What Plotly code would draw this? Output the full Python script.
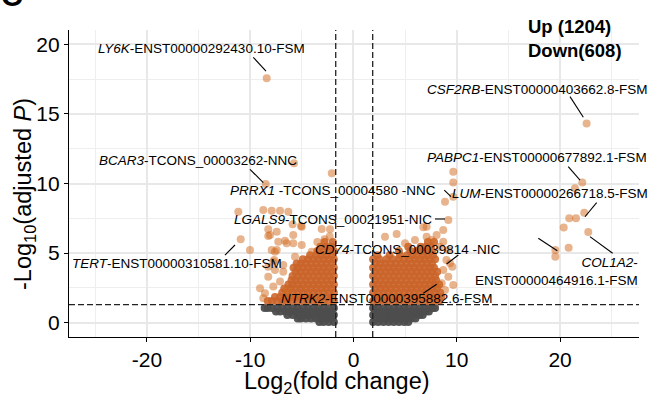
import plotly.graph_objects as go

# ---------------- data ----------------
fc_cut_left = -1.72
fc_cut_right = 1.86
p_cut = 1.301

# not significant (grey) cloud, stored row by row (y level, x values)
ns_row_y = [0.05, 0.3, 0.55, 0.8, 1.05]
ns_left_x_rows = [
    [-1.9, -2.4, -2.9, -3.3],
    [-2.1, -2.6, -3.1, -3.6, -4.1, -4.6, -5.1, -5.4],
    [-1.9, -2.4, -2.9, -3.4, -3.9, -4.4, -4.9, -5.4, -5.9, -6.4],
    [-2.1, -2.6, -3.1, -3.6, -4.1, -4.6, -5.1, -5.6, -6.1, -6.6, -7.1, -7.5],
    [-1.9, -2.4, -2.9, -3.4, -3.9, -4.4, -4.9, -5.4, -5.9, -6.4, -6.9, -7.4, -7.9, -8.3, -8.6],
]
ns_right_x_rows = [
    [1.9, 2.4, 2.9, 3.4, 3.9, 4.4, 4.9, 5.3],
    [2.1, 2.6, 3.1, 3.6, 4.1, 4.6, 5.1, 5.6, 6.0],
    [1.9, 2.4, 2.9, 3.4, 3.9, 4.4, 4.9, 5.4, 5.9, 6.4, 6.7],
    [2.1, 2.6, 3.1, 3.6, 4.1, 4.6, 5.1, 5.6, 6.1, 6.6, 7.0, 7.3],
    [1.9, 2.4, 2.9, 3.4, 3.9, 4.4, 4.9, 5.4, 5.9, 6.4, 6.9, 7.3, 7.7, 7.9],
]

# significant (orange) dense clouds, row by row
sig_left_row_y = [1.55, 1.85, 2.15, 2.45, 2.75, 3.05, 3.35, 3.65, 3.95, 4.25, 4.55, 4.85, 5.15, 5.45, 5.8]
sig_left_x_rows = [
    [-1.9, -2.4, -2.9, -3.4, -3.9, -4.4, -4.9, -5.4, -5.9, -6.4, -6.9, -7.4, -7.9, -8.3],
    [-2.1, -2.6, -3.1, -3.6, -4.1, -4.6, -5.1, -5.6, -6.1, -6.6, -7.1, -7.6],
    [-1.9, -2.4, -2.9, -3.4, -3.9, -4.4, -4.9, -5.4, -5.9, -6.4, -6.9],
    [-2.1, -2.6, -3.1, -3.6, -4.1, -4.6, -5.1, -5.6, -6.1, -6.7],
    [-1.9, -2.4, -2.9, -3.4, -3.9, -4.4, -4.9, -5.4, -5.9, -6.3],
    [-2.1, -2.6, -3.1, -3.6, -4.1, -4.6, -5.1, -5.6, -6.0],
    [-1.9, -2.4, -2.9, -3.4, -3.9, -4.4, -4.9, -5.4, -5.9],
    [-2.1, -2.6, -3.1, -3.6, -4.1, -4.6, -5.1, -5.6],
    [-1.9, -2.4, -2.9, -3.4, -3.9, -4.4, -4.9, -5.4, -5.8],
    [-2.1, -2.6, -3.1, -3.6, -4.1, -4.6, -5.1, -5.5],
    [-1.9, -2.4, -2.9, -3.4, -3.9, -4.4, -4.9],
    [-2.1, -2.6, -3.1, -3.6, -4.2],
    [-1.9, -2.4, -2.9, -3.5],
    [-2.1, -2.6, -3.2],
    [-2.0, -2.8],
]
sig_right_row_y = [1.55, 1.85, 2.15, 2.45, 2.75, 3.05, 3.35, 3.65, 3.95, 4.25, 4.55, 4.85, 5.15, 5.45, 5.8]
sig_right_x_rows = [
    [1.9, 2.4, 2.9, 3.4, 3.9, 4.4, 4.9, 5.4, 5.9, 6.4, 6.9, 7.4, 7.9, 8.3],
    [2.1, 2.6, 3.1, 3.6, 4.1, 4.6, 5.1, 5.6, 6.1, 6.6, 7.1, 7.6, 8.1, 8.5],
    [1.9, 2.4, 2.9, 3.4, 3.9, 4.4, 4.9, 5.4, 5.9, 6.4, 6.9, 7.4, 7.9, 8.4],
    [2.1, 2.6, 3.1, 3.6, 4.1, 4.6, 5.1, 5.6, 6.1, 6.6, 7.1, 7.6, 8.1],
    [1.9, 2.4, 2.9, 3.4, 3.9, 4.4, 4.9, 5.4, 5.9, 6.4, 6.9, 7.4, 7.9, 8.3],
    [2.1, 2.6, 3.1, 3.6, 4.1, 4.6, 5.1, 5.6, 6.1, 6.6, 7.1, 7.6, 8.0],
    [1.9, 2.4, 2.9, 3.4, 3.9, 4.4, 4.9, 5.4, 5.9, 6.4, 6.9, 7.4, 7.9],
    [2.1, 2.6, 3.1, 3.6, 4.1, 4.6, 5.1, 5.6, 6.1, 6.6, 7.1, 7.6, 8.1],
    [1.9, 2.4, 2.9, 3.4, 3.9, 4.4, 4.9, 5.4, 5.9, 6.4, 6.9, 7.4, 7.8],
    [2.1, 2.6, 3.1, 3.6, 4.1, 4.6, 5.1, 5.6, 6.1, 6.6, 7.1, 7.6],
    [1.9, 2.5, 3.2, 3.8, 4.4, 4.9, 5.4, 5.9, 6.4, 6.9, 7.4, 7.9],
    [2.3, 3.5, 4.5, 5.2, 5.7, 6.2, 6.7, 7.2, 7.7],
    [4.4, 5.5, 6.1, 6.6, 7.1, 7.6],
    [5.3, 6.5, 7.0, 7.5],
    [7.2, 7.8],
]

# significant scattered points (read individually)
sig_extra_x = [-8.40, -8.50, -5.76, -2.10, -11.15, -8.73, -7.92, -7.11, -6.31, -5.89,
               -5.08, -3.08, -2.27, -8.25, -8.25, -6.63, -5.83, -10.92, -10.02, -7.43,
               -7.67, -5.66, -5.01, -4.05, -7.92, -7.28, -8.25, -7.60, -6.80, -8.25,
               -7.11, -7.76, -8.57, -6.47, -8.08, -7.43, -5.83, -5.01, -6.47, -7.60,
               -7.76, -6.80, -9.05, -8.73, -2.3, -2.8, -3.5,
               9.66, 9.66, 8.86, 9.66, 9.18, 4.18, 6.76, 8.69, 7.08, 9.57,
               9.66, 9.00, 7.08, 8.69, 8.37, 9.18, 8.05, 7.57, 5.95, 4.99,
               3.05, 9.18, 8.69, 9.34, 8.54, 8.86,
               22.57, 22.15, 21.44, 22.34, 20.89, 21.54, 20.35, 22.73, 20.83, 19.54, 19.54]
sig_extra_y = [17.56, 9.96, 11.45, 10.73, 7.97, 8.10, 8.05, 8.05, 7.97, 7.07,
               6.95, 6.73, 6.71, 6.71, 6.23, 5.89, 5.70, 5.99, 5.22, 5.22,
               4.50, 4.74, 5.58, 5.10, 5.22, 5.82, 4.02, 3.79, 4.15, 3.30,
               2.95, 2.59, 2.11, 2.35, 6.30, 6.54, 6.30, 6.90, 5.70, 5.10,
               4.38, 3.66, 2.47, 1.75, 6.2, 6.0, 5.8,
               10.85, 10.08, 8.69, 9.05, 7.38, 6.37, 6.85, 6.66, 6.18, 4.02,
               2.71, 4.50, 6.90, 5.82, 5.46, 5.22, 6.30, 5.94, 5.94, 5.70,
               6.18, 3.30, 3.79, 4.27, 2.83, 2.35,
               14.32, 10.08, 9.65, 7.90, 7.50, 7.50, 6.83, 6.52, 5.39, 5.22, 4.74]

# gene labels
label_texts = [
    "<i>LY6K</i>-ENST00000292430.10-FSM",
    "<i>BCAR3</i>-TCONS_00003262-NNC",
    "<i>PRRX1</i> -TCONS_00004580 -NNC",
    "<i>LGALS9</i>-TCONS_00021951-NIC",
    "<i>CD74</i>-TCONS_00039814 -NIC",
    "<i>NTRK2</i>-ENST00000395882.6-FSM",
    "<i>TERT</i>-ENST00000310581.10-FSM",
    "<i>CSF2RB</i>-ENST00000403662.8-FSM",
    "<i>PABPC1</i>-ENST00000677892.1-FSM",
    "<i>LUM</i>-ENST00000266718.5-FSM",
]
label_x = [-14.67, -15.06, -2.03, -2.03, 5.23, 3.29, -17.09, 17.81, 17.73, 19.02]
label_y = [19.71, 11.64, 9.53, 7.43, 5.27, 1.75, 4.22, 16.77, 11.85, 9.25]
col1a2_text = "<i>COL1A2</i>-<br>ENST00000464916.1-FSM"
count_text = "<b>Up (1204)<br>Down(608)</b>"

seg_x0 = [-9.70, -10.02, 8.79, 7.89, 10.15, 6.76, -12.44, 20.96, 20.79, 22.41, 22.89, 17.89]
seg_y0 = [19.07, 11.02, 9.53, 7.45, 4.86, 2.11, 4.86, 16.24, 11.21, 7.61, 6.18, 6.06]
seg_x1 = [-8.47, -8.73, 9.44, 8.86, 9.02, 8.05, -11.47, 22.25, 21.93, 23.54, 25.09, 19.73]
seg_y1 = [18.07, 10.06, 9.05, 7.45, 4.22, 2.76, 5.58, 14.76, 10.25, 8.62, 4.99, 5.17]

x_ticks = [-20, -10, 0, 10, 20]
x_tick_text = ["-20", "-10", "0", "10", "20"]
y_ticks = [0, 5, 10, 15, 20]
y_tick_text = ["0", "5", "10", "15", "20"]

# ---------------- build ----------------
def flatten(rows_y, rows_x):
    xs, ys = [], []
    for yv, row in zip(rows_y, rows_x):
        for xv in row:
            xs.append(xv)
            ys.append(yv)
    return xs, ys

nlx, nly = flatten(ns_row_y, ns_left_x_rows)
nrx, nry = flatten(ns_row_y, ns_right_x_rows)
slx, sly = flatten(sig_left_row_y, sig_left_x_rows)
srx, sry = flatten(sig_right_row_y, sig_right_x_rows)

ns_x = nlx + nrx
ns_y = nly + nry
dense_x = slx + srx
dense_y = sly + sry

FONT = "Liberation Sans, Arial, Helvetica, sans-serif"
ORANGE = "rgb(210,105,30)"

fig = go.Figure()
fig.add_trace(go.Scatter(x=ns_x, y=ns_y, mode="markers",
                         marker=dict(size=8, color="rgb(77,77,77)", opacity=0.95, line=dict(width=0)),
                         hoverinfo="skip", showlegend=False))
fig.add_trace(go.Scatter(x=dense_x, y=dense_y, mode="markers",
                         marker=dict(size=8, color="rgb(202,100,42)", opacity=0.88, line=dict(width=0)),
                         hoverinfo="skip", showlegend=False))
fig.add_trace(go.Scatter(x=sig_extra_x, y=sig_extra_y, mode="markers",
                         marker=dict(size=8, color=ORANGE, opacity=0.5, line=dict(width=0)),
                         hoverinfo="skip", showlegend=False))

dash = "6px,3px"
fig.add_shape(type="line", xref="x", yref="paper", x0=fc_cut_left, x1=fc_cut_left, y0=0, y1=1,
              line=dict(color="#222", width=1.3, dash=dash))
fig.add_shape(type="line", xref="x", yref="paper", x0=fc_cut_right, x1=fc_cut_right, y0=0, y1=1,
              line=dict(color="#222", width=1.3, dash=dash))
fig.add_shape(type="line", xref="paper", yref="y", x0=0, x1=1, y0=p_cut, y1=p_cut,
              line=dict(color="#222", width=1.3, dash=dash))

for a, b, c, d in zip(seg_x0, seg_y0, seg_x1, seg_y1):
    fig.add_shape(type="line", xref="x", yref="y", x0=a, y0=b, x1=c, y1=d,
                  line=dict(color="black", width=1.1))

for t, xv, yv in zip(label_texts, label_x, label_y):
    fig.add_annotation(x=xv, y=yv, xref="x", yref="y", text=t, showarrow=False,
                       xanchor="center", yanchor="middle",
                       font=dict(family=FONT, size=13.5, color="black"))
fig.add_annotation(x=(640 - 69) / 570, y=(337 - 271.3) / 307, xref="paper", yref="paper",
                   text=col1a2_text, showarrow=False,
                   xanchor="right", yanchor="middle", align="right",
                   font=dict(family=FONT, size=13.5, color="black"))

fig.add_annotation(x=(526 - 69) / 570, y=(337 - 14) / 307, xref="paper", yref="paper",
                   text=count_text, showarrow=False, xanchor="left", yanchor="top", align="left",
                   font=dict(family=FONT, size=18.5, color="black"))

# axis titles
fig.add_annotation(x=(337 - 69) / 570, y=(337 - 382.5) / 307, xref="paper", yref="paper",
                   text="Log<sub>2</sub>(fold change)", showarrow=False,
                   xanchor="center", yanchor="middle",
                   font=dict(family=FONT, size=23.5, color="black"))
fig.add_annotation(x=(24 - 69) / 570, y=(337 - 194) / 307, xref="paper", yref="paper",
                   text="-Log<sub>10</sub>(adjusted <i>P</i>)", showarrow=False, textangle=-90,
                   xanchor="center", yanchor="middle",
                   font=dict(family=FONT, size=23.5, color="black"))
# panel letter
fig.add_annotation(x=(12 - 69) / 570, y=(337 - 14) / 307, xref="paper", yref="paper",
                   text="<b>C</b>", showarrow=False, xanchor="center", yanchor="bottom",
                   font=dict(family=FONT, size=30, color="black"))

axis_common = dict(showline=True, linecolor="black", linewidth=1.4, ticks="outside", ticklen=4,
                   tickwidth=1.3, tickcolor="black", zeroline=False, showgrid=True,
                   gridcolor="#E8E8E8", gridwidth=1.5,
                   tickfont=dict(family=FONT, size=21, color="black"))
fig.update_xaxes(range=[-27.54, 27.64], tickvals=x_ticks, ticktext=x_tick_text,
                 minor=dict(tickvals=[-25, -15, -5, 5, 15, 25], showgrid=True,
                            gridcolor="#EEEEEE", gridwidth=1.2, ticks=""),
                 **axis_common)
fig.update_yaxes(range=[-1.03, 21.03], tickvals=y_ticks, ticktext=y_tick_text,
                 minor=dict(tickvals=[2.5, 7.5, 12.5, 17.5], showgrid=True,
                            gridcolor="#EEEEEE", gridwidth=1.2, ticks=""),
                 **axis_common)

fig.update_layout(width=648, height=398, margin=dict(l=69, r=9, t=30, b=61),
                  plot_bgcolor="white", paper_bgcolor="white",
                  font=dict(family=FONT), showlegend=False)

fig.write_html("out.html")
